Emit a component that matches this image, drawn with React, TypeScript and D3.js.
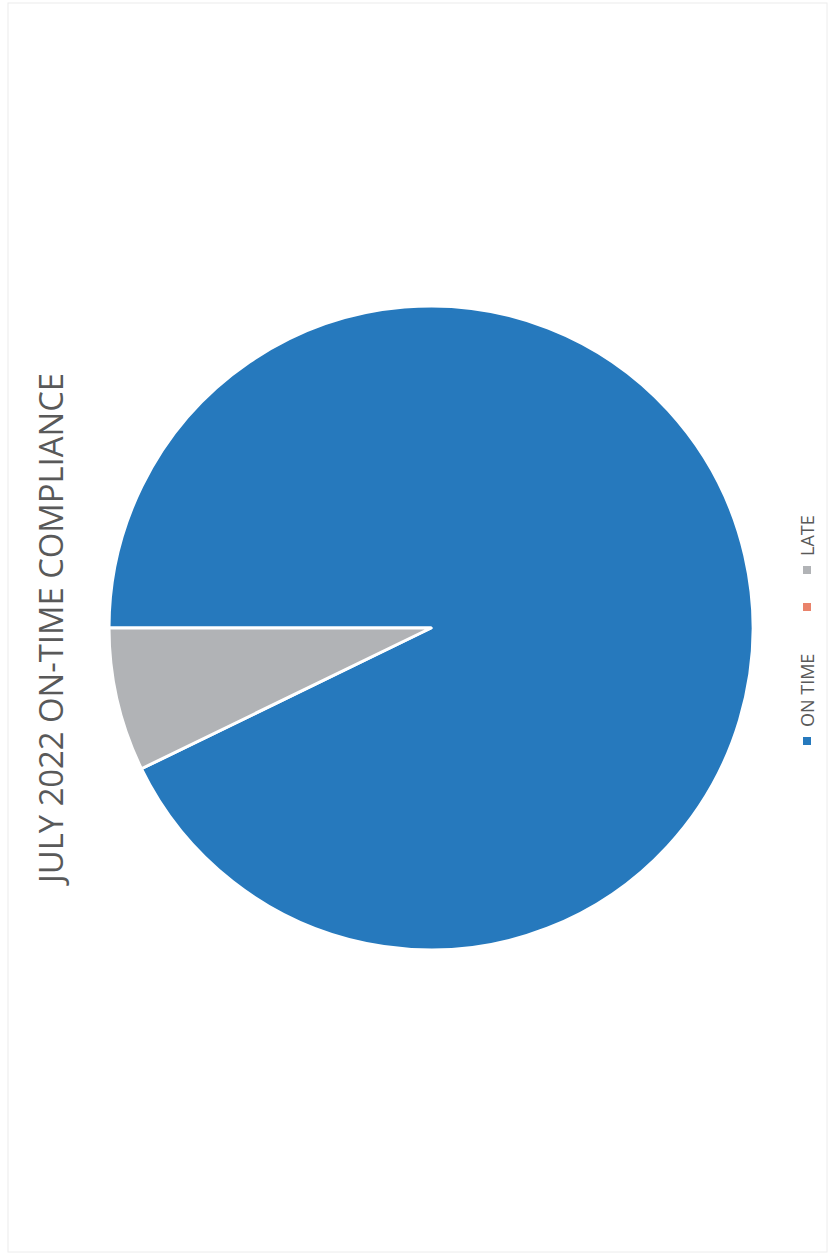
import React from "react";
import * as d3 from "d3";

const title = "JULY 2022 ON-TIME COMPLIANCE";
const categories = ["ON TIME", "", "LATE"];
const values = [92.8, 0, 7.2];
const colors = ["#2679BD", "#E9836B", "#B1B3B6"];

const W = 835;
const H = 1256;
// legend marker positions along the rotated axis (layout)
const legendPos = [741, 607, 570];

export default function App() {
  const cx = 431;
  const cy = 628;
  const r = 322;
  const data = categories.map((c, i) => ({ name: c, value: values[i], color: colors[i] }));
  const pie = d3
    .pie<any>()
    .value((d: any) => d.value)
    .sort(null)
    .startAngle(-Math.PI / 2)
    .endAngle((3 * Math.PI) / 2);
  const arcs = pie(data);
  const arc = d3.arc<any>().innerRadius(0).outerRadius(r);

  return (
    <svg
      width={W}
      height={H}
      style={{ position: "absolute", left: 0, top: 0, background: "#fff" }}
    >
      <rect x={8} y={3} width={819} height={1249} fill="none" stroke="#ececec" strokeWidth={1} />
      <text
        transform={`translate(63,${cy}) rotate(-90)`}
        textAnchor="middle"
        fontFamily="'Open Sans', 'Noto Sans', sans-serif"
        fontSize={32}
        fill="#595959"
        textLength={510}
        lengthAdjust="spacingAndGlyphs"
      >
        {title}
      </text>
      <g transform={`translate(${cx},${cy})`}>
        {arcs.map((a, i) => (
          <path
            key={i}
            d={arc(a) || ""}
            fill={a.data.color}
            stroke="#fff"
            strokeWidth={a.data.value > 0 ? 3 : 0}
            strokeLinejoin="round"
          />
        ))}
      </g>
      {data.map((d, i) => (
        <g key={i} transform={`translate(807,${legendPos[i]}) rotate(-90)`}>
          <rect x={-4} y={-4} width={8} height={8} fill={d.color} />
          {d.name && (
            <text
              x={14}
              y={6.5}
              fontFamily="'Open Sans', 'Noto Sans', sans-serif"
              fontSize={18}
              fill="#595959"
            >
              {d.name}
            </text>
          )}
        </g>
      ))}
    </svg>
  );
}
